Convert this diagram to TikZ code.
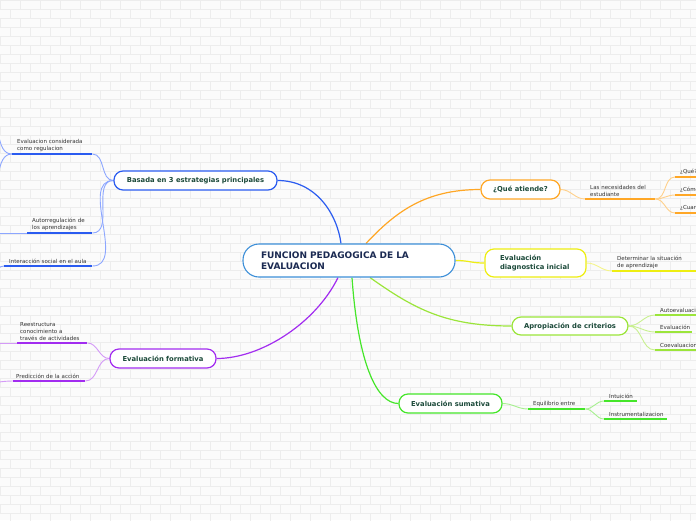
\documentclass[tikz,border=0pt]{standalone}
\usepackage{fontspec}
\setmainfont{DejaVu Sans}
\usetikzlibrary{calc, backgrounds}
\definecolor{paper}{HTML}{FBFBFB}
\definecolor{brickline}{HTML}{EDEDED}
\definecolor{rootborder}{HTML}{3D8FD8}
\definecolor{roottext}{HTML}{1B2A52}
\definecolor{topictext}{HTML}{1C4A3A}
\definecolor{leaftext}{HTML}{333333}
\definecolor{bluebr}{HTML}{2A5BF0}
\definecolor{bluelt}{HTML}{8CA6FF}
\definecolor{orangebr}{HTML}{FFA726}
\definecolor{orangelt}{HTML}{FFD08A}
\definecolor{yellowbr}{HTML}{EEEE11}
\definecolor{yellowlt}{HTML}{F4F48A}
\definecolor{limebr}{HTML}{9BE53A}
\definecolor{limelt}{HTML}{C8F08F}
\definecolor{greenbr}{HTML}{45E62A}
\definecolor{greenlt}{HTML}{A6F08F}
\definecolor{purplebr}{HTML}{A22CF0}
\definecolor{purplelt}{HTML}{D49AF7}
\def\rootfont{\fontsize{9}{11}\selectfont}
\def\topicfont{\fontsize{6.8}{8.4}\selectfont}
\def\leaffont{\fontsize{5.5}{7.2}\selectfont\hyphenpenalty=10000\exhyphenpenalty=10000}
\tikzset{
  root/.style={rectangle, rounded corners=16pt, draw=rootborder, fill=white,
               line width=1.1pt, minimum height=33pt, text width=176pt,
               inner xsep=18pt, align=left, font=\rootfont\bfseries, text=roottext},
  topic/.style={rectangle, rounded corners=9pt, fill=white, line width=1.2pt,
                minimum height=19pt, inner xsep=8pt, align=center,
                font=\topicfont\bfseries, text=topictext},
  leaf/.style={anchor=south west, align=left, font=\leaffont, text=leaftext,
               inner xsep=5pt, inner ysep=2pt},
  brick/.style={draw=brickline, line width=0.5pt},
  main/.style={line width=1.2pt},
  twig/.style={line width=0.9pt},
  under/.style={line width=2.2pt},
}

\begin{document}
\begin{tikzpicture}[x=1pt, y=-1pt]
\useasboundingbox (0,0) rectangle (696,520);
\clip (0,0) rectangle (696,520);

% Central idea
\node[root] (center) at (349,260.5) {FUNCION PEDAGOGICA DE LA\\EVALUACION};

% Main topics
\node[topic, draw=bluebr, minimum width=163pt] (basada) at (195.5,180.5) {Basada en 3 estrategias principales};
\node[topic, draw=purplebr, minimum width=106pt] (form) at (163,358.5) {Evaluación formativa};
\node[topic, draw=orangebr, minimum width=79pt] (que) at (520.5,189.5) {¿Qué atiende?};
\node[topic, draw=yellowbr, minimum height=28pt, text width=71pt, inner xsep=15pt,
      align=left] (diag) at (535.5,263) {Evaluación\\diagnostica inicial};
\node[topic, draw=limebr, minimum width=116pt, minimum height=18pt] (aprop) at (570,326) {Apropiación de criterios};
\node[topic, draw=greenbr, minimum width=103pt] (sum) at (450.5,403.5) {Evaluación sumativa};

% Leaves, left side
\node[leaf, text width=70pt] (lcons) at (12,154) {Evaluacion considerada\\como regulacion};
\node[leaf, text width=55pt] (lauto) at (27,233) {Autorregulación de\\los aprendizajes};
\node[leaf, text width=78pt] (linter) at (4,266) {Interacción social en el aula};
\node[leaf, text width=64pt, inner xsep=3pt] (lreest) at (17,343) {Reestructura\\conocimiento a\\través de actividades};
\node[leaf, text width=66pt, inner xsep=3pt] (lpred) at (13,381) {Predicción de la acción};

% Leaves, right side
\node[leaf, text width=60pt] (lneces) at (585,199) {Las necesidades del\\estudiante};
\node[leaf, text width=40pt] (lque) at (675,177) {¿Qué?};
\node[leaf, text width=40pt] (lcomo) at (675,195) {¿Cómo?};
\node[leaf, text width=40pt] (lcuan) at (675,213) {¿Cuando?};
\node[leaf, text width=75pt] (ldeter) at (612,271) {Determinar la situación\\de aprendizaje};
\node[leaf, text width=50pt] (lautoev) at (655,315) {Autoevaluacion};
\node[leaf, text width=27pt] (levalu) at (655,332) {Evaluación};
\node[leaf, text width=50pt] (lcoev) at (655,350) {Coevaluacion};
\node[leaf, text width=47pt] (lequi) at (528,409) {Equilibrio entre};
\node[leaf, text width=23pt] (lintu) at (604,401) {Intuición};
\node[leaf, text width=53pt] (linst) at (604,419) {Instrumentalizacion};

% Loose ends running off the page
\coordinate (offa) at (-15,116);
\coordinate (offb) at (-15,192);
\coordinate (offc) at (-15,233);
\coordinate (offd) at (-15,282);
\coordinate (offe) at (-15,343);
\coordinate (offf) at (-15,383);

\begin{scope}[on background layer]
  \fill[paper] (0,0) rectangle (696,520);
  \foreach \r in {0,...,57} {
    \draw[brick] (0,\r*9) -- (696,\r*9);
    \pgfmathsetmacro\off{mod(\r,2)*10}
    \foreach \c in {-1,...,35}
      \draw[brick] (\c*20+\off,\r*9) -- ++(0,9);
  }

  % Main branches
  \draw[main, bluebr] ($(center.north)+(-8,0)$) .. controls +(-4,-30) and +(38,0) .. (basada.east);
  \draw[main, orangebr] ($(center.north)+(17,0)$) .. controls +(30,-32) and +(-55,0) .. (que.west);
  \draw[main, yellowbr] (center.east) .. controls +(14,0) and +(-14,0) .. (diag.west);
  \draw[main, limebr] ($(center.south)+(21,0)$) .. controls +(45,32) and +(-65,0) .. (aprop.west);
  \draw[main, greenbr] ($(center.south)+(3,0)$) .. controls +(6,85) and +(-22,0) .. (sum.west);
  \draw[main, purplebr] ($(center.south)+(-11,0)$) .. controls +(-22,45) and +(45,0) .. (form.east);

  % Twigs
  \foreach \n in {lcons, lauto, linter}
    \draw[twig, bluelt] (basada.west) to[out=180, in=0] (\n.south east);
  \draw[twig, bluelt] (lcons.south west) to[out=180, in=0] (offa);
  \draw[twig, bluelt] (lcons.south west) to[out=180, in=0] (offb);
  \draw[twig, bluelt] (lauto.south west) -- (offc);
  \draw[twig, bluelt] (linter.south west) to[out=180, in=0] (offd);
  \foreach \n in {lreest, lpred}
    \draw[twig, purplelt] (form.west) to[out=180, in=0] (\n.south east);
  \draw[twig, purplelt] (lreest.south west) -- (offe);
  \draw[twig, purplelt] (lpred.south west) to[out=180, in=0] (offf);
  \draw[twig, orangelt] (que.east) to[out=0, in=180] (lneces.south west);
  \foreach \n in {lque, lcomo, lcuan}
    \draw[twig, orangelt] (lneces.south east) to[out=0, in=180] (\n.south west);
  \draw[twig, yellowlt] (diag.east) to[out=0, in=180] (ldeter.south west);
  \foreach \n in {lautoev, levalu, lcoev}
    \draw[twig, limelt] (aprop.east) to[out=0, in=180] (\n.south west);
  \draw[twig, greenlt] (sum.east) to[out=0, in=180] (lequi.south west);
  \foreach \n in {lintu, linst}
    \draw[twig, greenlt] (lequi.south east) to[out=0, in=180] (\n.south west);
\end{scope}

% Underlines
\foreach \n in {lcons, lauto, linter}
  \draw[under, bluebr] (\n.south west) -- (\n.south east);
\foreach \n in {lreest, lpred}
  \draw[under, purplebr] (\n.south west) -- (\n.south east);
\foreach \n in {lneces, lque, lcomo, lcuan}
  \draw[under, orangebr] (\n.south west) -- (\n.south east);
\draw[under, yellowbr] (ldeter.south west) -- (ldeter.south east);
\foreach \n in {lautoev, levalu, lcoev}
  \draw[under, limebr] (\n.south west) -- (\n.south east);
\foreach \n in {lequi, lintu, linst}
  \draw[under, greenbr] (\n.south west) -- (\n.south east);

\end{tikzpicture}
\end{document}
